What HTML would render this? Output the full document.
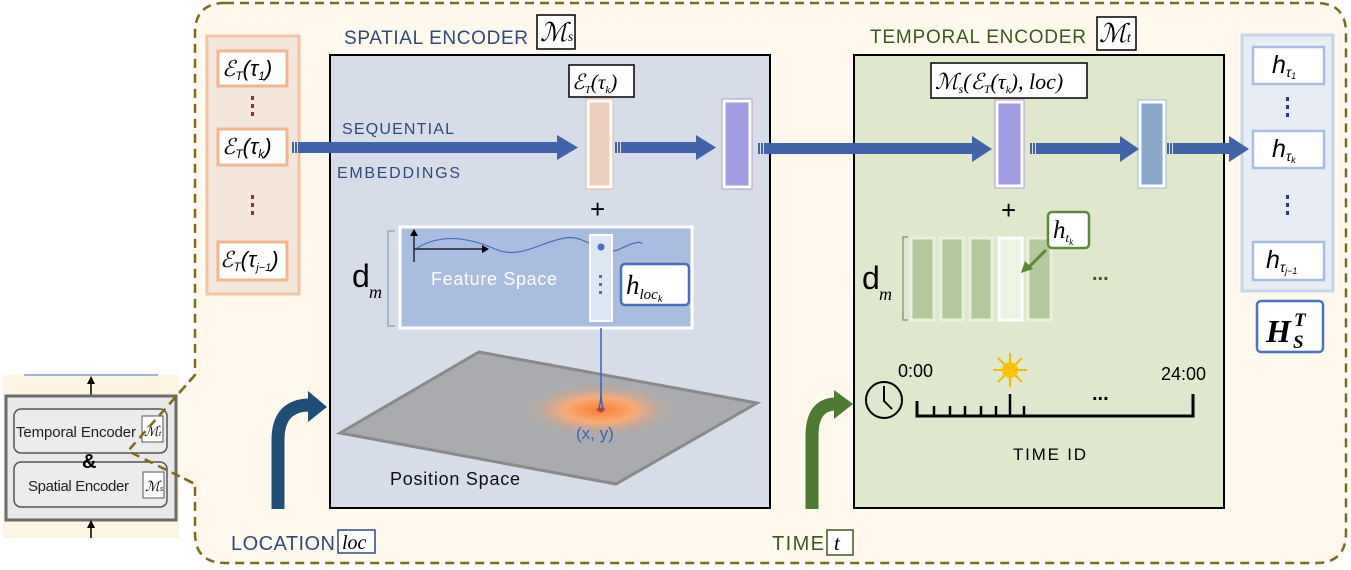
<!DOCTYPE html>
<html><head><meta charset="utf-8"><style>
html,body{margin:0;padding:0;background:#fff;width:1351px;height:570px;overflow:hidden}
text{font-family:"Liberation Sans",sans-serif}
.m{font-family:"Liberation Serif","DejaVu Serif",serif;font-style:italic}
</style></head><body>
<svg width="1351" height="570" viewBox="0 0 1351 570" xmlns="http://www.w3.org/2000/svg">
<defs>
<radialGradient id="glow" cx="0.5" cy="0.5" r="0.5">
<stop offset="0" stop-color="#ff7a30"/><stop offset="0.45" stop-color="#ffab70" stop-opacity="0.9"/><stop offset="1" stop-color="#b0a8a0" stop-opacity="0"/>
</radialGradient>
</defs>
<path d="M225,3 H1316 Q1346,3 1346,33 V533 Q1346,563 1316,563 H225 Q195,563 195,533 V484 L128,451 L195,375 V33 Q195,3 225,3 Z" fill="#fef9ec" stroke="#806a1a" stroke-width="2.5" stroke-dasharray="9,6"/>
<rect x="3" y="375" width="176" height="163" fill="#fbf5e2"/>
<line x1="24" y1="375" x2="158" y2="375" stroke="#9fb4dc" stroke-width="2"/>
<line x1="91" y1="398" x2="91" y2="382" stroke="#000" stroke-width="1.5"/><path d="M87,384 L91,376 L95,384Z"/>
<rect x="6" y="396" width="170" height="124" fill="#e9e9e9" stroke="#6b6b6b" stroke-width="3"/>
<rect x="14" y="409" width="153" height="44" rx="7" fill="#ececec" stroke="#555" stroke-width="1.5"/>
<rect x="14" y="462" width="153" height="45" rx="7" fill="#ececec" stroke="#555" stroke-width="1.5"/>
<text x="16" y="437" font-size="15" fill="#222" textLength="120">Temporal Encoder</text>
<rect x="142" y="416" width="21" height="26" fill="#fff" stroke="#555"/><text x="144" y="436" class="m" font-size="14">ℳ<tspan font-size="8">t</tspan></text>
<text x="82" y="468" font-size="20" font-weight="bold">&amp;</text>
<text x="28" y="491" font-size="15" fill="#222" textLength="101">Spatial Encoder</text>
<rect x="143" y="472" width="21" height="26" fill="#fff" stroke="#555"/><text x="145" y="491" class="m" font-size="14">ℳ<tspan font-size="8">s</tspan></text>
<line x1="91" y1="538" x2="91" y2="526" stroke="#000" stroke-width="1.5"/><path d="M87,528 L91,520 L95,528Z"/>
<path d="M195,375 L128,451 L195,484" fill="none" stroke="#806a1a" stroke-width="2.5" stroke-dasharray="9,6"/>

<rect x="330" y="55" width="440" height="453" fill="#d6dde8" stroke="#000" stroke-width="2"/>
<text x="344" y="44" font-size="19" fill="#2f4a7f" textLength="184">SPATIAL ENCODER</text>
<rect x="537" y="15" width="38" height="34" fill="#fff" stroke="#000" stroke-width="1.5"/>
<text x="540" y="41" class="m" font-size="26">ℳ<tspan font-size="14">s</tspan></text>

<rect x="207" y="36" width="92" height="258" fill="#f5e6dc" stroke="#f2c4a6" stroke-width="3"/>
<g fill="#fff" stroke="#f0b890" stroke-width="3">
<rect x="218" y="51" width="69" height="35"/><rect x="218" y="129" width="69" height="36"/><rect x="218" y="242" width="69" height="38"/></g>
<g class="m" font-size="22"><text x="222" y="76">ℰ<tspan font-size="12" dy="4">T</tspan><tspan dy="-4">(τ</tspan><tspan font-size="12" dy="4">1</tspan><tspan dy="-4">)</tspan></text>
<text x="222" y="154">ℰ<tspan font-size="12" dy="4">T</tspan><tspan dy="-4">(τ</tspan><tspan font-size="12" dy="4">k</tspan><tspan dy="-4">)</tspan></text>
<text x="220" y="267">ℰ<tspan font-size="12" dy="4">T</tspan><tspan dy="-4">(τ</tspan><tspan font-size="11" dy="4">j−1</tspan><tspan dy="-4">)</tspan></text></g>
<g fill="#8b3a1f"><rect x="251" y="96" width="3" height="4"/><rect x="251" y="104" width="3" height="4"/><rect x="251" y="112" width="3" height="4"/>
<rect x="251" y="195" width="3" height="4"/><rect x="251" y="203" width="3" height="4"/><rect x="251" y="211" width="3" height="4"/></g>

<text x="342" y="134" font-size="16" fill="#2f4a7f" textLength="112">SEQUENTIAL</text>
<text x="337" y="178" font-size="16" fill="#2f4a7f" textLength="123">EMBEDDINGS</text>

<rect x="569" y="65" width="65" height="32" fill="#fff" stroke="#000" stroke-width="1.5"/>
<text x="572" y="89" class="m" font-size="21">ℰ<tspan font-size="11" dy="4">T</tspan><tspan dy="-4">(τ</tspan><tspan font-size="11" dy="4">k</tspan><tspan dy="-4">)</tspan></text>
<rect x="588" y="101" width="23" height="86" fill="#eccfbd" stroke="#fff" stroke-width="3"/><rect x="586" y="99" width="27" height="90" fill="none" stroke="#e8b898" stroke-width="1"/>
<rect x="724" y="101" width="26" height="86" fill="#a29be6" stroke="#fff" stroke-width="3"/><rect x="722" y="99" width="30" height="90" fill="none" stroke="#b79ad0" stroke-width="1"/>
<text x="590" y="218" font-size="26">+</text>

<path d="M395,231 H388 V326 H395" fill="none" stroke="#7b90b8" stroke-width="1"/>
<text x="352" y="287" font-family="Liberation Serif,serif" font-size="32">d</text><text x="369" y="298" class="m" font-size="18">m</text>
<rect x="400" y="227" width="292" height="101" fill="#a8bde0" stroke="#fff" stroke-width="3"/>
<path d="M414,250 C440,232 470,238 495,249 C520,260 540,242 565,238 C585,234 600,256 618,250 C630,244 640,240 642,244" fill="none" stroke="#4a6fbf" stroke-width="1.2"/>
<line x1="414" y1="262" x2="414" y2="234" stroke="#222" stroke-width="1.5"/><path d="M410,236 L414,229 L418,236Z"/>
<line x1="414" y1="249" x2="483" y2="249" stroke="#222" stroke-width="1.5"/><path d="M482,245 L489,249 L482,253Z"/>
<text x="431" y="285" font-size="18" fill="#fff" textLength="126">Feature Space</text>
<rect x="590" y="235" width="22" height="86" fill="#dde6f3" stroke="#fff" stroke-width="2"/>
<circle cx="601" cy="247" r="3.5" fill="#4a6fbf"/>
<g fill="#4a6fbf"><rect x="599" y="275" width="3" height="3"/><rect x="599" y="283" width="3" height="3"/><rect x="599" y="291" width="3" height="3"/></g>
<rect x="621" y="264" width="68" height="41" rx="4" fill="#fff" stroke="#4a6fbf" stroke-width="2.5"/>
<text x="626" y="294" class="m" font-size="27">h<tspan font-size="15" dy="5">loc</tspan><tspan font-size="10" dy="3">k</tspan></text>

<path d="M340,433 L479,352 L757,403 L616,484 Z" fill="#a9abaf" stroke="#8a8a8a" stroke-width="3"/>
<ellipse cx="600" cy="410" rx="80" ry="28" fill="url(#glow)"/>
<circle cx="601" cy="410" r="2.5" fill="#c33"/>
<path d="M601,328 V390 Q601,408 597,410 M601,390 Q601,408 605,410" fill="none" stroke="#3a62c0" stroke-width="1.5"/>
<text x="576" y="439" font-size="17" fill="#3a62c0">(x, y)</text>
<text x="390" y="485" font-size="18" fill="#111" textLength="130">Position Space</text>

<path d="M278,509 V440 Q278,405 310,405" fill="none" stroke="#1f4e79" stroke-width="13"/>
<path d="M308,391 L327,407 L308,422Z" fill="#1f4e79"/>
<text x="231" y="550" font-size="20" fill="#2f4a7f" textLength="104">LOCATION</text>
<rect x="338" y="530" width="37" height="23" fill="#fff" stroke="#2f4a7f" stroke-width="1.5"/>
<text x="342" y="549" class="m" font-size="20">loc</text>

<rect x="854" y="55" width="370" height="453" fill="#dfe8cc" stroke="#000" stroke-width="2"/>
<text x="870" y="43" font-size="19" fill="#3b5a1f" textLength="216">TEMPORAL ENCODER</text>
<rect x="1097" y="17" width="39" height="33" fill="#fff" stroke="#000" stroke-width="1.5"/>
<text x="1099" y="42" class="m" font-size="26">ℳ<tspan font-size="14">t</tspan></text>
<rect x="931" y="63" width="156" height="35" fill="#fff" stroke="#000" stroke-width="1.5"/>
<text x="935" y="89" class="m" font-size="22">ℳ<tspan font-size="12" dy="4">s</tspan><tspan dy="-4">(ℰ</tspan><tspan font-size="12" dy="4">T</tspan><tspan dy="-4">(τ</tspan><tspan font-size="11" dy="4">k</tspan><tspan dy="-4">), loc)</tspan></text>
<rect x="997" y="102" width="25" height="84" fill="#a29be6" stroke="#fff" stroke-width="3"/><rect x="995" y="100" width="29" height="88" fill="none" stroke="#b79ad0"/>
<rect x="1140" y="102" width="24" height="84" fill="#88a8cc" stroke="#fff" stroke-width="3"/><rect x="1138" y="100" width="28" height="88" fill="none" stroke="#9ab8d8"/>
<text x="1001" y="219" font-size="26">+</text>
<path d="M908,237 H903 V320 H908" fill="none" stroke="#6a7a50" stroke-width="1"/>
<text x="862" y="289" font-family="Liberation Serif,serif" font-size="32">d</text><text x="879" y="300" class="m" font-size="18">m</text>
<g stroke="#e9f0dc" stroke-width="3" fill="#b4c99b">
<rect x="911" y="238" width="23" height="82"/><rect x="941" y="238" width="22" height="82"/><rect x="970" y="238" width="22" height="82"/>
<rect x="999" y="238" width="23" height="82" fill="#eef4e3" stroke="#fff"/><rect x="1028" y="238" width="23" height="82"/></g>
<rect x="1048" y="212" width="41" height="36" rx="4" fill="#fff" stroke="#5a8a3a" stroke-width="2.5"/>
<text x="1053" y="238" class="m" font-size="25">h<tspan font-size="13" dy="4">t</tspan><tspan font-size="9" dy="3">k</tspan></text>
<line x1="1046" y1="250" x2="1028" y2="268" stroke="#5a8a3a" stroke-width="3"/><path d="M1021,273 L1025,261 L1033,269Z" fill="#5a8a3a"/>
<text x="1092" y="280" font-size="20" font-weight="bold" fill="#3b5a1f">...</text>

<circle cx="884" cy="400" r="18" fill="none" stroke="#000" stroke-width="2"/>
<path d="M884,386 V401 L892,409" fill="none" stroke="#000" stroke-width="2"/>
<text x="898" y="377" font-size="18">0:00</text>
<text x="1161" y="380" font-size="18">24:00</text>
<g stroke="#f5b800" stroke-width="2"><line x1="1010" y1="353" x2="1010" y2="387"/><line x1="993" y1="370" x2="1027" y2="370"/><line x1="998" y1="358" x2="1022" y2="382"/><line x1="998" y1="382" x2="1022" y2="358"/></g>
<circle cx="1010" cy="370" r="8" fill="#ffc000"/>
<path d="M917,401 V416 H1193 V394" fill="none" stroke="#000" stroke-width="3"/>
<g stroke="#000" stroke-width="2.5"><line x1="934" y1="416" x2="934" y2="406"/><line x1="950" y1="416" x2="950" y2="406"/><line x1="965" y1="416" x2="965" y2="406"/><line x1="981" y1="416" x2="981" y2="406"/><line x1="996" y1="416" x2="996" y2="406"/><line x1="1010" y1="416" x2="1010" y2="394"/><line x1="1024" y1="416" x2="1024" y2="406"/></g>
<text x="1092" y="400" font-size="20" font-weight="bold">...</text>
<text x="1013" y="460" font-size="17" textLength="73">TIME ID</text>

<path d="M812,509 V436 Q812,404 836,404" fill="none" stroke="#4e7a32" stroke-width="13"/>
<path d="M834,390 L853,404 L834,419Z" fill="#4e7a32"/>
<text x="772" y="550" font-size="20" fill="#3b5a1f" textLength="52">TIME</text>
<rect x="827" y="530" width="26" height="25" fill="#fff" stroke="#3b5a1f" stroke-width="1.5"/>
<text x="834" y="550" class="m" font-size="21">t</text>

<rect x="1242" y="35" width="91" height="256" fill="#e8ecf5" stroke="#c8d4ea" stroke-width="3"/>
<g fill="#fff" stroke="#a8bde0" stroke-width="2.5"><rect x="1253" y="47" width="71" height="37"/><rect x="1253" y="131" width="71" height="37"/><rect x="1253" y="242" width="71" height="38"/></g>
<g class="m" font-size="25"><text x="1272" y="73">h<tspan font-size="14" dy="4">τ</tspan><tspan font-size="9" dy="2">1</tspan></text>
<text x="1272" y="157">h<tspan font-size="14" dy="4">τ</tspan><tspan font-size="9" dy="2">k</tspan></text>
<text x="1266" y="268">h<tspan font-size="14" dy="4">τ</tspan><tspan font-size="9" dy="2">j−1</tspan></text></g>
<g fill="#2a3a7a"><rect x="1286" y="97" width="3" height="4"/><rect x="1286" y="105" width="3" height="4"/><rect x="1286" y="113" width="3" height="4"/>
<rect x="1286" y="195" width="3" height="4"/><rect x="1286" y="203" width="3" height="4"/><rect x="1286" y="211" width="3" height="4"/></g>
<rect x="1257" y="301" width="66" height="51" rx="4" fill="#fff" stroke="#4a72c0" stroke-width="2.5"/>
<text x="1266" y="342" class="m" font-size="32" font-weight="bold">H</text><text x="1294" y="326" class="m" font-size="19" font-weight="bold">T</text><text x="1293" y="348" class="m" font-size="19" font-weight="bold">S</text>

<g fill="#4063aa">
<rect x="292" y="142" width="2" height="11"/><rect x="295" y="142" width="2" height="11"/><rect x="298" y="142" width="259" height="11"/><path d="M557,135 L578,147.5 L557,160Z"/>
<rect x="615" y="142" width="2" height="11"/><rect x="618" y="142" width="2" height="11"/><rect x="621" y="142" width="75" height="11"/><path d="M696,135 L716,147.5 L696,160Z"/>
<rect x="758" y="143" width="2" height="11"/><rect x="761" y="143" width="2" height="11"/><rect x="764" y="143" width="208" height="11"/><path d="M972,136 L992,149 L972,162Z"/>
<rect x="1030" y="143" width="2" height="11"/><rect x="1033" y="143" width="2" height="11"/><rect x="1036" y="143" width="85" height="11"/><path d="M1120,136 L1139,149 L1120,162Z"/>
<rect x="1167" y="143" width="2" height="11"/><rect x="1170" y="143" width="2" height="11"/><rect x="1173" y="143" width="57" height="11"/><path d="M1229,136 L1249,149 L1229,162Z"/>
</g>
</svg>
</body></html>
